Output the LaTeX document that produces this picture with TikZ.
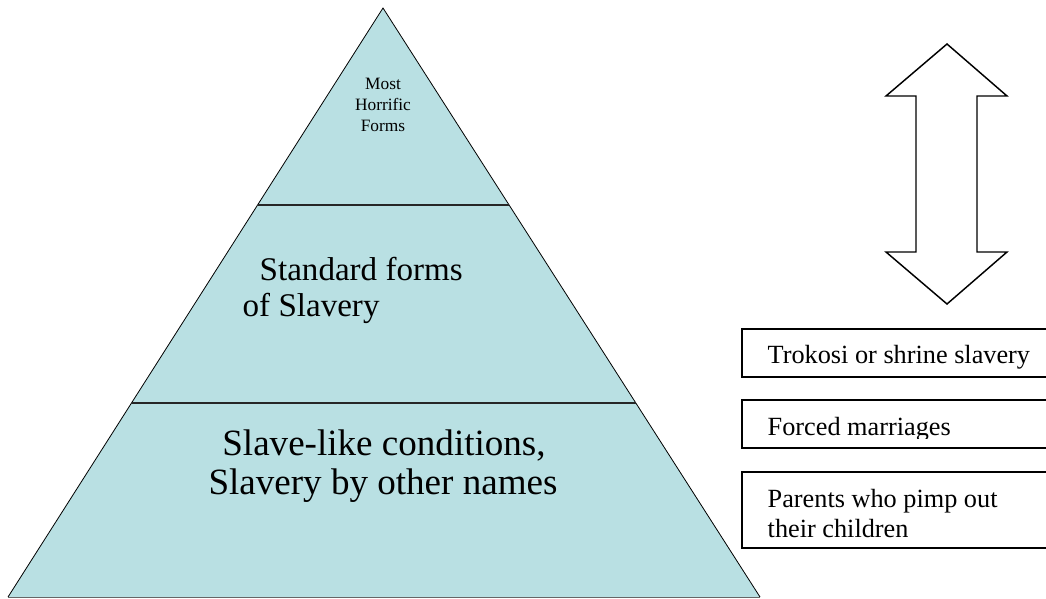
\documentclass[tikz,border=0pt]{standalone}
\usepackage{fontspec}
\setmainfont{Liberation Serif}
\definecolor{pyrfill}{RGB}{185,224,227}
\begin{document}
\begin{tikzpicture}[x=0.75pt,y=-0.75pt]
				\useasboundingbox (0,0) rectangle (1046,599)
				;
				\path
				(383,8) coordinate (T)
				(8,597) coordinate (L)
				(760,597) coordinate (R)
				;
				\fill[pyrfill] (T)--(L)--(R)--cycle
				;
				\draw[line width=0.6pt] (L)--(T)--(R)
				;
				\draw[line width=0.6pt,black!60] (L)--(R)
				;
				\path (T)--(L) coordinate[pos=.3345] (L1) coordinate[pos=.6706] (L2)
				;
				\path (T)--(R) coordinate[pos=.3345] (R1) coordinate[pos=.6706] (R2)
				;
				\draw[line width=1.2pt,black!85] (L1)--(R1) (L2)--(R2)
				;
				\foreach \t/\y [count=\i] in {Most/90, Horrific/111, Forms/132} \node[font=\fontsize{13}{15}\selectfont,anchor=base] (top\i) at (383,\y) {\t}
				;
				\node[font=\fontsize{24.8}{27}\selectfont,anchor=base west] (std1) at (255,280) {Standard forms}
				;
				\node[font=\fontsize{24.8}{27}\selectfont,anchor=base west] (std2) at (238,316) {of Slavery}
				;
				\node[font=\fontsize{27.8}{30}\selectfont,anchor=base] (low1) at (384,455) {Slave-like conditions,}
				;
				\node[font=\fontsize{27.8}{30}\selectfont,anchor=base] (low2) at (383,494) {Slavery by other names}
				;
				\draw[line width=1.1pt,fill=white] (947,44)--(1007,96)--(977,96)--(977,252)--(1007,252)--(947,304)--(886,252)--(916,252)--(916,96)--(886,96)--cycle
				;
				\foreach \a/\b in {329/377, 400/448, 472/548} \draw[line width=1pt,fill=white] (742,\a) rectangle (1052,\b)
				;
				\begin{scope}
				\clip (742,329) rectangle (1046,368);
				\node[font=\fontsize{19.7}{22.5}\selectfont,anchor=base west] (trokosi) at (763,363) {Trokosi or shrine slavery};
				\end{scope}
				\begin{scope}
				\clip (742,400) rectangle (1046,438);
				\node[font=\fontsize{19.7}{22.5}\selectfont,anchor=base west] (forced) at (763,435) {Forced marriages};
				\end{scope}
				\begin{scope}
				\clip (742,472) rectangle (1046,542);
				\node[font=\fontsize{19.7}{22.5}\selectfont,anchor=base west] (parents1) at (763,507) {Parents who pimp out};
				\node[font=\fontsize{19.7}{22.5}\selectfont,anchor=base west] (parents2) at (763,537) {their children};
				\end{scope}
\end{tikzpicture}
\end{document}
